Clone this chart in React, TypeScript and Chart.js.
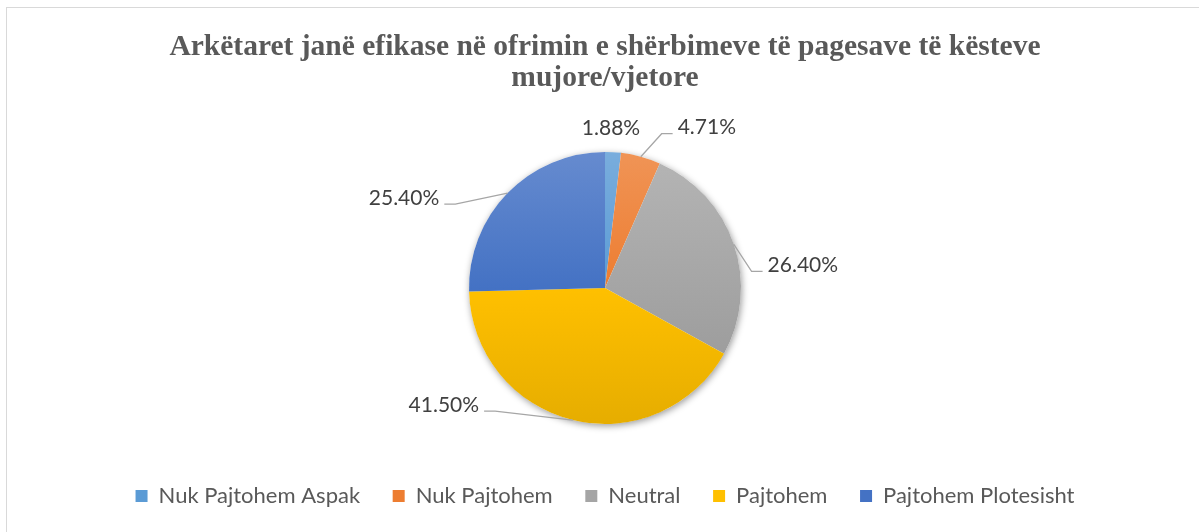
import React, { useEffect, useRef } from 'react';
import { Chart, registerables } from 'chart.js';

Chart.register(...registerables);

const titleLines = [
  'Arkëtaret janë efikase në ofrimin e shërbimeve të pagesave të kësteve',
  'mujore/vjetore',
];
const categories = ['Nuk Pajtohem Aspak', 'Nuk Pajtohem', 'Neutral', 'Pajtohem', 'Pajtohem Plotesisht'];
const shares = [1.88, 4.71, 26.4, 41.5, 25.4];
const valueLabels = ['1.88%', '4.71%', '26.40%', '41.50%', '25.40%'];
const baseColors = ['#5B9BD5', '#ED7D31', '#A5A5A5', '#FFC000', '#4472C4'];

// label nudges relative to each slice's outer mid point: [dx, dy, hasLeaderLine]
const labelNudges: [number, number, boolean][] = [
  [-2, -24, false],
  [66, -29, true],
  [69, 21, true],
  [-129, -15, true],
  [-103.5, 5, true],
];

const PIE_RADIUS = 136;
const LABEL_FONT = '21px Lato';

function mix(hex: string, target: number, t: number): string {
  const n = parseInt(hex.slice(1), 16);
  const r = (n >> 16) & 255, g = (n >> 8) & 255, b = n & 255;
  const f = (c: number) => Math.round(c + (target - c) * t);
  return `rgb(${f(r)},${f(g)},${f(b)})`;
}

const pieDecorPlugin = {
  id: 'pieDecor',
  beforeDatasetsDraw(chart: any) {
    const arc = chart.getDatasetMeta(0).data[0];
    if (!arc) return;
    const ctx = chart.ctx;
    ctx.save();
    ctx.shadowColor = 'rgba(0,0,0,0.4)';
    ctx.shadowBlur = 7;
    ctx.shadowOffsetX = 1;
    ctx.shadowOffsetY = 2;
    ctx.beginPath();
    ctx.arc(arc.x, arc.y, arc.outerRadius, 0, Math.PI * 2);
    ctx.fillStyle = '#ffffff';
    ctx.fill();
    ctx.restore();
  },
  afterDatasetsDraw(chart: any) {
    const ctx = chart.ctx;
    const meta = chart.getDatasetMeta(0);
    ctx.save();
    ctx.font = LABEL_FONT;
    ctx.textAlign = 'center';
    ctx.textBaseline = 'middle';
    meta.data.forEach((arc: any, i: number) => {
      const { x, y, startAngle, endAngle, outerRadius } = arc.getProps(
        ['x', 'y', 'startAngle', 'endAngle', 'outerRadius'],
        true
      );
      const mid = (startAngle + endAngle) / 2;
      const ax = x + Math.cos(mid) * outerRadius;
      const ay = y + Math.sin(mid) * outerRadius;
      const [dx, dy, leader] = labelNudges[i];
      const cx = ax + dx;
      const cy = ay + dy;
      const text = valueLabels[i];
      const w = ctx.measureText(text).width;
      if (leader) {
        const right = dx > 0;
        const hx0 = right ? cx - w / 2 - 5 : cx + w / 2 + 5;
        const hx1 = right ? hx0 - 11 : hx0 + 11;
        const hy = cy + 6;
        ctx.beginPath();
        ctx.moveTo(ax, ay);
        ctx.lineTo(hx1, hy);
        ctx.lineTo(hx0, hy);
        ctx.strokeStyle = '#a6a6a6';
        ctx.lineWidth = 1.25;
        ctx.stroke();
      }
      ctx.fillStyle = '#404040';
      ctx.fillText(text, cx, cy);
    });
    ctx.restore();
  },
};

export default function App() {
  const canvasRef = useRef<HTMLCanvasElement>(null);

  useEffect(() => {
    if (!canvasRef.current) return;
    const chart = new Chart(canvasRef.current, {
      type: 'pie',
      data: {
        labels: categories,
        datasets: [
          {
            data: shares,
            borderWidth: 0,
            backgroundColor: (c: any) => {
              const ch = c.chart;
              const area = ch.chartArea;
              const i = c.dataIndex ?? 0;
              const base = baseColors[i % baseColors.length];
              if (!area) return base;
              const cy = (area.top + area.bottom) / 2;
              const g = ch.ctx.createLinearGradient(0, cy - PIE_RADIUS, 0, cy + PIE_RADIUS);
              g.addColorStop(0, mix(base, 255, 0.18));
              g.addColorStop(0.5, base);
              g.addColorStop(1, mix(base, 0, 0.1));
              return g;
            },
          },
        ],
      },
      options: {
        animation: false,
        responsive: false,
        radius: PIE_RADIUS,
        layout: { padding: { left: 4, bottom: 15 } },
        plugins: {
          title: {
            display: true,
            text: titleLines,
            color: '#595959',
            font: { family: 'Liberation Serif', weight: 'bold', size: 29.5, lineHeight: 1.05 },
            padding: { top: 23.5, bottom: 30 },
          },
          legend: {
            position: 'bottom',
            labels: {
              color: '#595959',
              font: { family: 'Lato', size: 22 },
              boxWidth: 12,
              boxHeight: 12,
              padding: 32.6,
              generateLabels: () =>
                categories.map((name, i) => ({
                  text: name,
                  fillStyle: baseColors[i],
                  strokeStyle: baseColors[i],
                  lineWidth: 0,
                  hidden: false,
                  index: i,
                  fontColor: '#595959',
                })),
            },
          },
          tooltip: { enabled: false },
        },
      } as any,
      plugins: [pieDecorPlugin],
    });
    return () => chart.destroy();
  }, []);

  return (
    <div
      style={{
        position: 'absolute',
        left: 6,
        top: 7,
        width: 1192,
        height: 524,
        borderTop: '1px solid #d9d9d9',
        borderLeft: '1px solid #d9d9d9',
        background: '#ffffff',
      }}
    >
      <canvas ref={canvasRef} width={1192} height={524} style={{ display: 'block' }} />
    </div>
  );
}
